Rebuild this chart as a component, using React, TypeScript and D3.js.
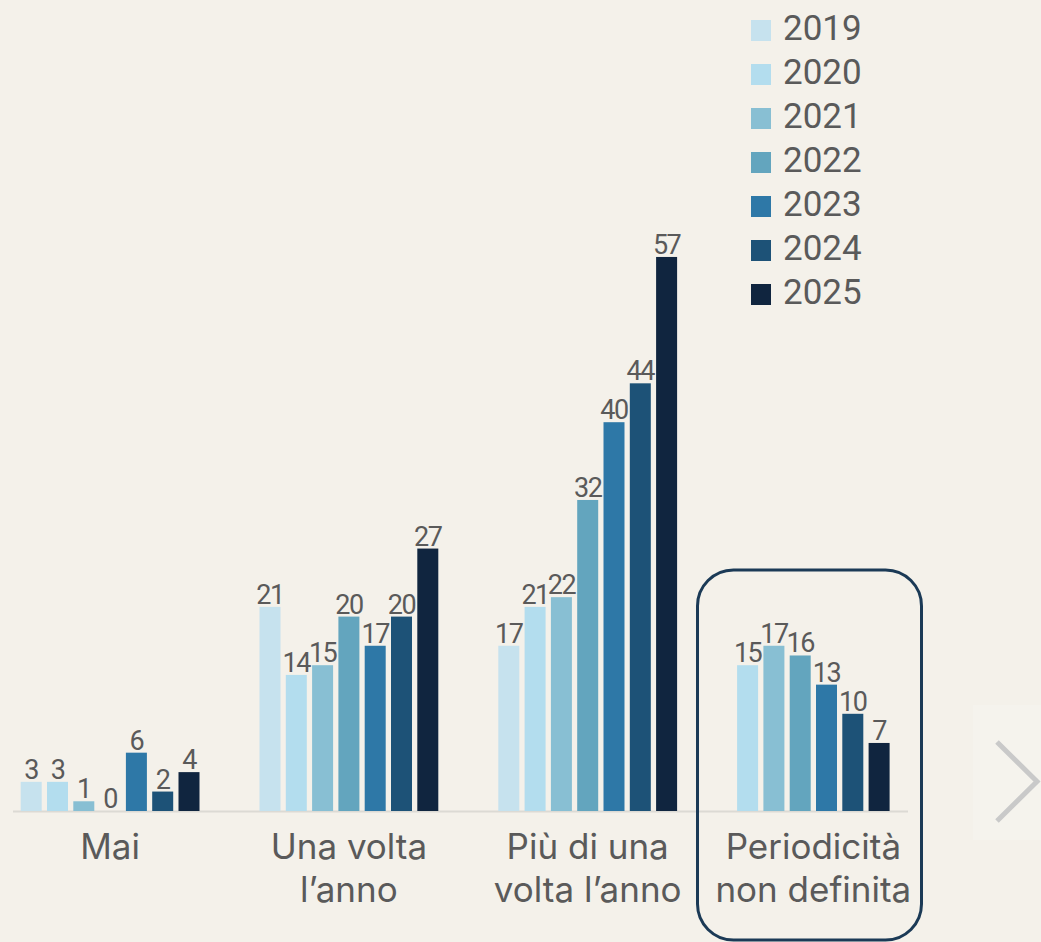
import React, { useEffect } from "react";
import * as d3 from "d3";

const years = ["2019", "2020", "2021", "2022", "2023", "2024", "2025"];
const colors = ["#c6e2ee", "#b3ddee", "#88bfd3", "#63a5be", "#2e78a7", "#1d5277", "#10253f"];
const categories = [
  ["Mai"],
  ["Una volta", "l\u2019anno"],
  ["Più di una", "volta l\u2019anno"],
  ["Periodicità", "non definita"],
];
const mai: (number | null)[] = [3, 3, 1, 0, 6, 2, 4];
const unaVolta: (number | null)[] = [21, 14, 15, 20, 17, 20, 27];
const piuVolte: (number | null)[] = [17, 21, 22, 32, 40, 44, 57];
const nonDefinita: (number | null)[] = [null, 15, 17, 16, 13, 10, 7];
const series = [mai, unaVolta, piuVolte, nonDefinita];

const W = 1041;
const H = 942;
const baseY = 811;
const step = 26.3;
const barW = 21;
const groupGap = 60;
const startX = 20.7;

export default function App() {
  useEffect(() => {
    document.body.style.margin = "0";
  }, []);

  const y = d3.scaleLinear().domain([0, 60]).range([baseY, baseY - 60 * 9.72]);

  let cursor = startX;
  const groups = series.map((vals, gi) => {
    const present = years.filter((_, i) => vals[i] !== null);
    const width = present.length * step - (step - barW);
    const x = d3
      .scaleBand<string>()
      .domain(present)
      .range([cursor, cursor + width])
      .paddingInner((step - barW) / step)
      .paddingOuter(0)
      .align(0);
    const g = { gi, vals, present, x, x0: cursor, width, center: cursor + width / 2 };
    cursor += width + groupGap;
    return g;
  });

  const labelFont = "Inter, 'Noto Sans', sans-serif";
  const valueFont = "Roboto, sans-serif";
  const textColor = "#5a5a5a";

  return (
    <svg width={W} height={H} style={{ position: "absolute", left: 0, top: 0, display: "block" }}>
      <rect x={0} y={0} width={W} height={H} fill="#f4f1ea" />
      <rect x={973} y={705} width={68} height={135} fill="#f5f3ed" />
      <line x1={13} x2={908} y1={baseY + 0.5} y2={baseY + 0.5} stroke="#dcdad4" strokeWidth={2} />
      {groups.map((g) => (
        <g key={g.gi}>
          {years.map((yr, i) => {
            const v = g.vals[i];
            if (v === null) return null;
            const bx = g.x(yr)!;
            const bw = g.x.bandwidth();
            return (
              <g key={yr}>
                <rect x={bx} y={y(v)} width={bw} height={baseY - y(v)} fill={colors[i]} />
                <text
                  x={bx + bw / 2}
                  y={y(v) - 3}
                  textAnchor="middle"
                  fontFamily={valueFont}
                  fontSize={27}
                  letterSpacing={-1.5}
                  fill={textColor}
                >
                  {v}
                </text>
              </g>
            );
          })}
          {categories[g.gi].map((line, li) => (
            <text
              key={li}
              x={g.center}
              y={859 + li * 43}
              textAnchor="middle"
              fontFamily={labelFont}
              fontSize={35}
              fill={textColor}
            >
              {line}
            </text>
          ))}
        </g>
      ))}
      <rect
        x={697.5}
        y={570}
        width={224}
        height={370}
        rx={36}
        ry={36}
        fill="none"
        stroke="#1b3a56"
        strokeWidth={3}
      />
      {years.map((yr, i) => (
        <g key={yr} transform={`translate(751, ${20 + i * 44})`}>
          <rect x={0} y={0} width={20} height={21} fill={colors[i]} />
          <text x={32} y={19.5} fontFamily="Roboto, sans-serif" fontSize={35} fill={textColor}>
            {yr}
          </text>
        </g>
      ))}
      <polyline
        points="997,742 1037,781.5 997,821"
        fill="none"
        stroke="#c9c9c9"
        strokeWidth={5}
      />
    </svg>
  );
}
